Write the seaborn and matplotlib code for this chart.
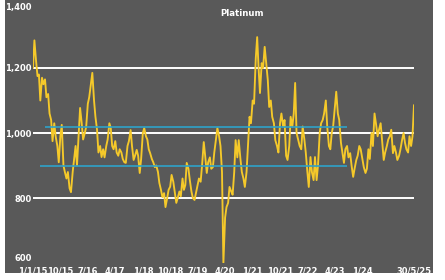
import numpy as np
import pandas as pd
import matplotlib
matplotlib.use("Agg")
import matplotlib.pyplot as plt
import seaborn as sns
from matplotlib.patches import Rectangle
from matplotlib import font_manager

# ---------------- data (semi-monthly readings, USD/oz) ----------------
start_date = "2015-01-01"
end_date = "2025-05-30"

price_2015 = [1200, 1285, 1220, 1175, 1180, 1100, 1170, 1150, 1165, 1110, 1120, 1060,
              1040, 975, 1030, 990, 960, 910, 990, 1025, 900, 880, 860, 880]
price_2016 = [830, 818, 880, 920, 960, 900, 1000, 1077, 1030, 980, 1000, 1020,
              1090, 1110, 1150, 1185, 1100, 1050, 1010, 940, 960, 926, 950, 925]
price_2017 = [960, 980, 1030, 1015, 960, 950, 975, 940, 930, 950, 940, 920,
              910, 908, 960, 975, 1009, 960, 917, 930, 948, 930, 877, 920]
price_2018 = [1000, 1015, 990, 980, 950, 938, 920, 910, 895, 900, 880, 846,
              825, 803, 815, 772, 800, 825, 835, 871, 850, 820, 785, 800]
price_2019 = [820, 805, 860, 825, 840, 908, 890, 855, 820, 800, 794, 815,
              840, 860, 850, 900, 972, 930, 877, 910, 925, 890, 895, 940]
price_2020 = [980, 1015, 990, 960, 880, 600, 740, 772, 785, 834, 820, 810,
              880, 978, 925, 978, 920, 880, 860, 834, 880, 960, 1050, 1030]
price_2021 = [1100, 1090, 1230, 1295, 1200, 1123, 1215, 1200, 1265, 1220, 1163, 1080,
              1100, 1050, 1030, 978, 960, 940, 1030, 1060, 1020, 1040, 930, 917]
price_2022 = [960, 1050, 1020, 1060, 1154, 1000, 978, 960, 950, 1020, 980, 940,
              880, 834, 926, 880, 855, 926, 855, 900, 1000, 1030, 1040, 1060]
price_2023 = [1100, 1020, 960, 950, 1000, 1020, 1080, 1127, 1060, 1040, 970, 940,
              908, 950, 960, 925, 938, 900, 865, 890, 917, 930, 960, 950]
price_2024 = [920, 895, 877, 890, 950, 920, 1000, 960, 1060, 1030, 990, 1010,
              1030, 980, 917, 940, 960, 980, 990, 1010, 938, 960, 940, 917]
price_2025 = [930, 950, 980, 1000, 970, 950, 940, 990, 960, 990, 1086]

prices = (price_2015 + price_2016 + price_2017 + price_2018 + price_2019 +
          price_2020 + price_2021 + price_2022 + price_2023 + price_2024 + price_2025)

dates = list(pd.date_range(start_date, "2025-05-15", freq="SMS")) + [pd.Timestamp(end_date)]
assert len(dates) == len(prices)
df = pd.DataFrame({"date": dates, "price": prices})

grid_levels = [800, 1000, 1200]
ref_levels = [1020, 900]
ref_starts = ["2015-05-01", "2015-03-10"]
ref_end = "2023-08-01"

tick_dates = ["2015-01-01", "2015-10-01", "2016-07-01", "2017-04-01", "2018-01-01",
              "2018-10-01", "2019-07-01", "2020-04-01", "2021-01-01", "2021-10-01",
              "2022-07-01", "2023-04-01", "2024-01-01", "2024-10-01", "2025-05-30"]
tick_labels = ["1/1/15", "10/15", "7/16", "4/17", "1/18", "10/18", "7/19", "4/20",
               "1/21", "10/21", "7/22", "4/23", "1/24", "", "30/5/25"]
y_ticks = [600, 800, 1000, 1200, 1400]
y_labels = ["600", "800", "1,000", "1,200", "1,400"]
title = "Platinum"

# ---------------- styling ----------------
sns.set_style("dark")
installed = {f.name for f in font_manager.fontManager.ttflist}
narrow = "Liberation Sans Narrow" in installed
if narrow:
    plt.rcParams["font.family"] = ["Liberation Sans Narrow", "DejaVu Sans"]
    FS = 7.5
else:
    plt.rcParams["font.family"] = ["DejaVu Sans"]
    FS = 6.0

BG = "#595959"
LINE = "#f5c92a"
TEAL = "#2ea3c9"

W, H = 445, 280
fig = plt.figure(figsize=(W / 100, H / 100), dpi=100, facecolor="white")
fig.patches.append(Rectangle((5 / W, 7 / H), (433 - 5) / W, 1 - 7 / H,
                             transform=fig.transFigure, facecolor=BG,
                             edgecolor="none", zorder=-5))

ax = fig.add_axes([33 / W, 17 / H, 381 / W, 260 / H])
ax.set_zorder(1)
ax.patch.set_alpha(0)

for g in grid_levels:
    ax.axhline(g, color="white", lw=1.4, zorder=1)

sns.lineplot(data=df, x="date", y="price", ax=ax, color=LINE, lw=1.35, zorder=2)

for lvl, s in zip(ref_levels, ref_starts):
    ax.hlines(lvl, pd.Timestamp(s), pd.Timestamp(ref_end), color=TEAL, lw=1.2, zorder=3)

ax.set_xlim(pd.Timestamp(start_date), pd.Timestamp(end_date))
ax.set_ylim(600, 1400)
ax.set_xlabel("")
ax.set_ylabel("")
for sp in ax.spines.values():
    sp.set_visible(False)
ax.grid(False)

ax.set_xticks([pd.Timestamp(d) for d in tick_dates])
ax.set_xticklabels(tick_labels)
ax.set_yticks(y_ticks)
ax.set_yticklabels(y_labels)

ax.tick_params(axis="x", direction="in", length=4, width=1, color="white",
               labelcolor="white", labelsize=FS, pad=2.5)
ax.tick_params(axis="y", length=0, labelcolor="white", labelsize=FS, pad=1)
for lab in ax.get_xticklabels() + ax.get_yticklabels():
    lab.set_fontweight("bold")

xt = ax.xaxis.get_major_ticks()
for t in (xt[0], xt[-1]):
    t.tick1line.set_visible(False)

yl = ax.get_yticklabels()
yl[0].set_va("bottom")
yl[-1].set_va("top")

fig.text(242 / W, 1 - 13 / H, title, color="white", fontsize=FS + 0.2,
         fontweight="bold", ha="center", va="center")

fig.savefig("out.png", dpi=100, facecolor=fig.get_facecolor())
